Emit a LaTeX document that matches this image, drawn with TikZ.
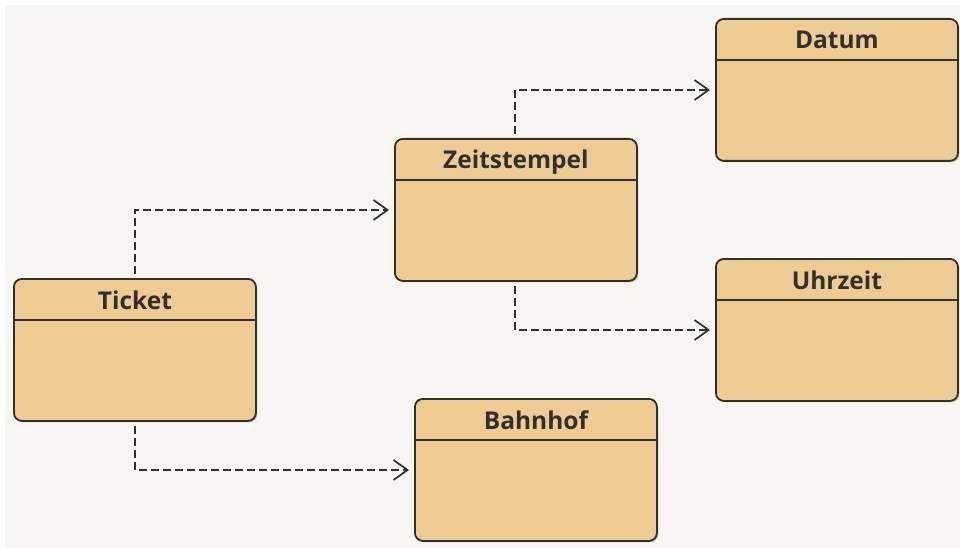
\documentclass[tikz,border=0pt]{standalone}
\usepackage{fontspec}
\setmainfont{Open Sans}
\usetikzlibrary{arrows.meta,shadows}
\definecolor{canvas}{HTML}{F7F6F2}
\definecolor{classfill}{HTML}{EFCB94}
\definecolor{ink}{HTML}{303030}
\tikzset{
  classbox/.style={draw=ink, line width=1.8pt, fill=classfill, rounded corners=8pt,
    minimum width=242pt, minimum height=142pt, inner sep=0pt,
    drop shadow={shadow xshift=1.5pt, shadow yshift=-1.5pt, opacity=0.35, fill=black!60}},
  classname/.style={font=\bfseries\fontsize{24.5}{28}\selectfont, text=ink, inner sep=0pt, anchor=base},
  divider/.style={draw=ink, line width=1.4pt},
  dep/.style={draw=ink, line width=1.7pt, dash pattern=on 8pt off 4pt,
    -{Straight Barb[length=14pt, width=20pt, line width=1.7pt]}},
}
\newcommand{\umlclass}[4]{%
  % #1 name, #2 left x, #3 top y, #4 title
  \node[classbox, anchor=north west] (#1) at (#2,#3) {};
  \draw[divider] ([yshift=-42pt]#1.north west) -- ([yshift=-42pt]#1.north east);
  \node[classname] (#1-title) at ([yshift=-31pt]#1.north) {#4};
}
\begin{document}
\begin{tikzpicture}[x=1pt, y=-1pt]
  \useasboundingbox (0,0) rectangle (960,548);
  \fill[white] (0,0) rectangle (960,548);
  \fill[canvas] (5,5) rectangle (960,548);

  \umlclass{ticket}{13}{278}{Ticket}
  \umlclass{zeit}{394}{138}{Zeitstempel}
  \umlclass{datum}{715}{18}{Datum}
  \umlclass{uhrzeit}{715}{258}{Uhrzeit}
  \umlclass{bahnhof}{414}{398}{Bahnhof}

  % bend points of the dependency connectors
  \coordinate (tz) at (135,210);
  \coordinate (tb) at (135,470);
  \coordinate (zd) at (515,90);
  \coordinate (zu) at (515,330);

  \draw[dep] ([yshift=4pt]ticket.north -| tz) -- (tz) -- ([xshift=-5pt]zeit.west |- tz);
  \draw[dep] ([yshift=-4pt]ticket.south -| tb) -- (tb) -- ([xshift=-5pt]bahnhof.west |- tb);
  \draw[dep] ([yshift=4pt]zeit.north -| zd) -- (zd) -- ([xshift=-5pt]datum.west |- zd);
  \draw[dep] ([yshift=-4pt]zeit.south -| zu) -- (zu) -- ([xshift=-5pt]uhrzeit.west |- zu);
\end{tikzpicture}
\end{document}
